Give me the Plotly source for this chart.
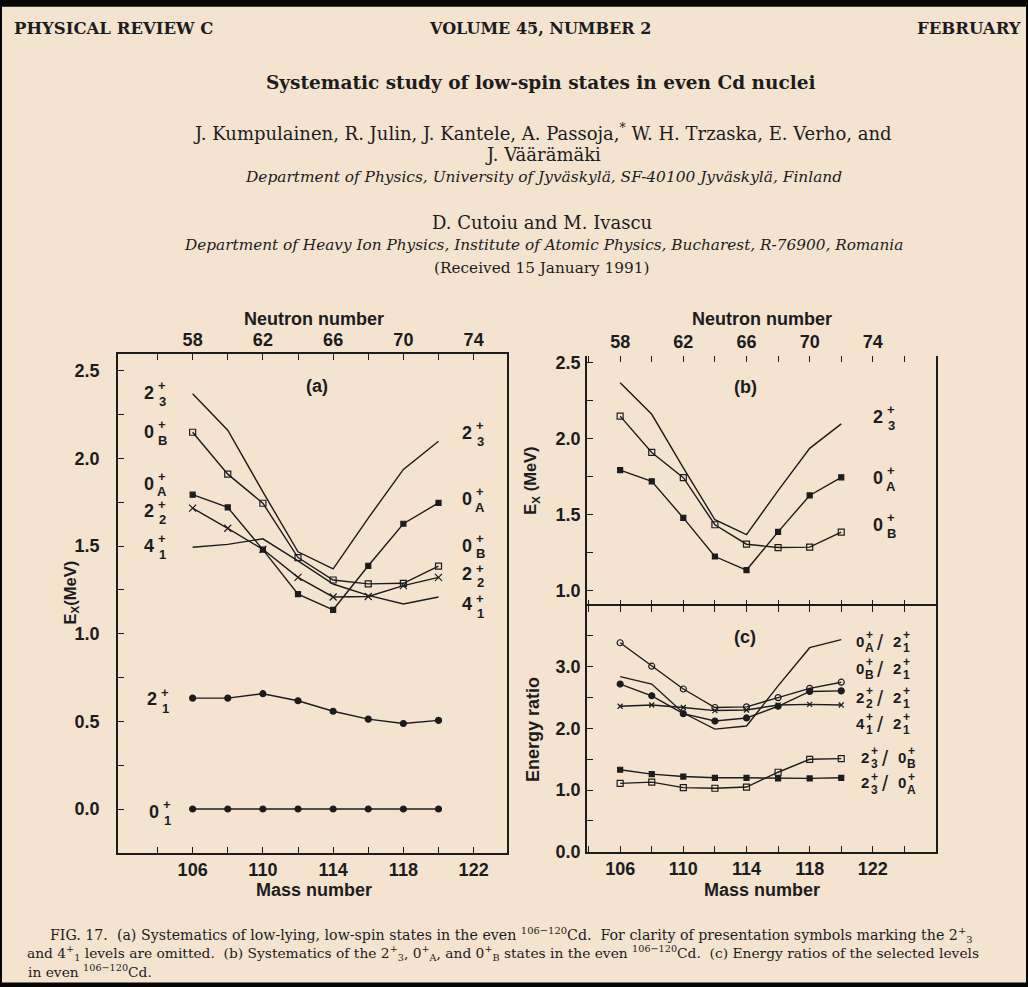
import plotly.graph_objects as go

# Even Cd isotopes, A = 106 ... 120
mass = [106, 108, 110, 112, 114, 116, 118, 120]

# Level energies (MeV)
e_0_1 = [0.0, 0.0, 0.0, 0.0, 0.0, 0.0, 0.0, 0.0]
e_2_1 = [0.633, 0.633, 0.658, 0.618, 0.558, 0.513, 0.488, 0.506]
e_4_1 = [1.494, 1.510, 1.542, 1.416, 1.284, 1.219, 1.170, 1.210]
e_2_2 = [1.717, 1.602, 1.482, 1.322, 1.210, 1.213, 1.275, 1.322]
e_0_A = [1.794, 1.721, 1.480, 1.226, 1.137, 1.388, 1.628, 1.747]
e_0_B = [2.150, 1.911, 1.745, 1.435, 1.307, 1.285, 1.288, 1.386]
e_2_3 = [2.370, 2.162, 1.810, 1.468, 1.370, 1.660, 1.938, 2.099]

# Energy ratios
r_0A_21 = [2.84, 2.72, 2.25, 1.99, 2.04, 2.69, 3.31, 3.44]
r_0B_21 = [3.39, 3.01, 2.64, 2.34, 2.35, 2.50, 2.65, 2.75]
r_22_21 = [2.72, 2.53, 2.24, 2.12, 2.17, 2.36, 2.60, 2.61]
r_41_21 = [2.36, 2.38, 2.34, 2.29, 2.30, 2.38, 2.39, 2.38]
r_23_0B = [1.11, 1.13, 1.04, 1.03, 1.05, 1.29, 1.50, 1.51]
r_23_0A = [1.33, 1.26, 1.22, 1.20, 1.20, 1.19, 1.19, 1.20]

# Axis tick labels
mass_ticks = [106, 110, 114, 118, 122]
mass_minor = [104, 108, 112, 116, 120, 124]
n_ticks = [58, 62, 66, 70, 74]
n_minor = [56, 60, 64, 68, 72, 76]

Z_CD = 48  # neutron number N = A - Z

W, H = 1028, 987
BG = "#f4e3cf"
INK = "#1c1c1c"
SANS = "Liberation Sans"
SERIF = "DejaVu Serif"


def fx(x):
    return x / W


def fy(y):
    # page rows mapped onto the figure's height
    return 1 - ((y - 1.3) / 0.989) / H


line_style = dict(color=INK, width=1.4)
fig = go.Figure()


def add(x, y, xa, ya, symbol=None, size=6, open_=False):
    kw = dict(x=x, y=y, xaxis=xa, yaxis=ya, line=line_style,
              showlegend=False, hoverinfo="skip")
    if symbol is None:
        kw["mode"] = "lines"
    else:
        kw["mode"] = "lines+markers"
        kw["marker"] = dict(symbol=symbol, size=size,
                            color=BG if open_ else INK,
                            line=dict(color=INK, width=1.2))
    fig.add_trace(go.Scatter(**kw))


# (a) level systematics
add(mass, e_0_1, "x", "y", "circle", 6)
add(mass, e_2_1, "x", "y", "circle", 6)
add(mass, e_4_1, "x", "y")
add(mass, e_2_2, "x", "y", "x-thin-open", 7)
add(mass, e_0_A, "x", "y", "square", 5)
add(mass, e_0_B, "x", "y", "square-open", 6)
add(mass, e_2_3, "x", "y")

# (b) 2_3, 0_A, 0_B
add(mass, e_2_3, "x2", "y2")
add(mass, e_0_A, "x2", "y2", "square", 5)
add(mass, e_0_B, "x2", "y2", "square-open", 6)

# (c) energy ratios
add(mass, r_0A_21, "x3", "y3")
add(mass, r_0B_21, "x3", "y3", "circle-open", 6)
add(mass, r_22_21, "x3", "y3", "circle", 6)
add(mass, r_41_21, "x3", "y3", "x-thin-open", 5)
add(mass, r_23_0B, "x3", "y3", "square-open", 6)
add(mass, r_23_0A, "x3", "y3", "square", 5)

# carriers for the neutron-number axes on top
for xa, ya in (("x4", "y"), ("x5", "y2")):
    fig.add_trace(go.Scatter(x=[66], y=[None], xaxis=xa, yaxis=ya,
                             mode="lines", showlegend=False, hoverinfo="skip"))

tick_font = dict(family=SANS, size=18, color=INK, weight="bold")
axis_common = dict(showline=True, linecolor=INK, linewidth=1.5, ticks="inside",
                   ticklen=6, tickwidth=1.3, tickcolor=INK, showgrid=False,
                   zeroline=False, tickfont=tick_font)


def minor(**kw):
    return dict(ticks="inside", ticklen=6, tickcolor=INK, tickwidth=1.3, **kw)


xa_range = [101.75, 123.9]
xb_range = [103.9, 126.0]

fig.update_layout(
    width=W, height=H,
    margin=dict(l=0, r=0, t=0, b=0),
    paper_bgcolor=BG, plot_bgcolor=BG,
    showlegend=False,
    xaxis=dict(axis_common, domain=[fx(118), fx(507)], range=xa_range, anchor="y",
               tickvals=mass_ticks, mirror=True, ticklabelstandoff=0,
               minor=minor(tickvals=mass_minor)),
    yaxis=dict(axis_common, domain=[fy(853), fy(353)], range=[-0.25, 2.597],
               anchor="x", tick0=0, dtick=0.5, tickformat=".1f", mirror=True,
               ticklabelstandoff=13, minor=minor(dtick=0.25)),
    xaxis4=dict(axis_common, overlaying="x", side="top", anchor="y", showline=False,
                range=[xa_range[0] - Z_CD, xa_range[1] - Z_CD], tickvals=n_ticks,
                ticklabelstandoff=3, minor=minor(tickvals=n_minor)),
    xaxis2=dict(axis_common, domain=[fx(587), fx(936)], range=xb_range, anchor="y2",
                tickvals=mass_ticks, showline=False, showticklabels=False,
                minor=minor(tickvals=mass_minor)),
    xaxis5=dict(axis_common, overlaying="x2", side="top", anchor="y2", showline=False,
                range=[xb_range[0] - Z_CD, xb_range[1] - Z_CD], tickvals=n_ticks,
                ticklabelstandoff=3, minor=minor(tickvals=n_minor)),
    yaxis2=dict(axis_common, domain=[fy(606), fy(355)], range=[0.898, 2.546],
                anchor="x2", tick0=0, dtick=0.5, tickformat=".1f", mirror=True,
                ticklabelstandoff=1, minor=minor(dtick=0.25)),
    xaxis3=dict(axis_common, domain=[fx(587), fx(936)], range=xb_range, anchor="y3",
                tickvals=mass_ticks, mirror="allticks", ticklabelstandoff=0,
                minor=minor(tickvals=mass_minor)),
    yaxis3=dict(axis_common, domain=[fy(852), fy(606)], range=[-0.001, 3.98],
                anchor="x3", tick0=0, dtick=1, tickformat=".1f", mirror=True,
                ticklabelstandoff=1, minor=minor(dtick=0.5)),
)

anns = []


def txt(x, y, text, size, family=SANS, weight="bold", xanchor="center",
        angle=0, color=INK):
    anns.append(dict(x=fx(x), y=fy(y), xref="paper", yref="paper", text=text,
                     showarrow=False, xanchor=xanchor, yanchor="middle",
                     textangle=angle,
                     font=dict(family=family, size=size, color=color,
                               weight=weight)))


def level(x, y, base, sup, sub, bsize=18, ssize=13, dx=13, up=7, down=9):
    txt(x, y, base, bsize)
    txt(x + dx, y - up, sup, ssize)
    txt(x + dx, y + down, sub, ssize)


def ratio(x, y, num, den):
    level(x, y, *num, bsize=15, ssize=12, dx=9, up=6, down=7)
    txt(x + 20, y + 1, "/", 22, weight="normal")
    level(x + 37, y, *den, bsize=15, ssize=12, dx=9, up=6, down=7)


# axis titles and panel letters
txt(314, 318, "Neutron number", 18)
txt(762, 318, "Neutron number", 18)
txt(314, 890, "Mass number", 18)
txt(762, 890, "Mass number", 18)
txt(71, 592, "E<sub>X</sub>(MeV)", 16.5, angle=-90)
txt(531, 480, "E<sub>X</sub> (MeV)", 16.5, angle=-90)
txt(533, 730, "Energy ratio", 18, angle=-90)
txt(317, 385, "(a)", 18)
txt(745, 386, "(b)", 18)
txt(745, 637, "(c)", 18)

# level labels, panel (a) left column
level(149, 392, "2", "+", "3")
level(149, 431, "0", "+", "B")
level(149, 483, "0", "+", "A", down=8)
level(149, 510, "2", "+", "2", up=6)
level(149, 545, "4", "+", "1")
level(152, 699, "2", "+", "1")
level(154, 812, "0", "+", "1")
# panel (a) right column
level(467, 432, "2", "+", "3")
level(467, 498, "0", "+", "A")
level(467, 545, "0", "+", "B", down=8)
level(467, 574, "2", "+", "2", up=6, down=8)
level(467, 604, "4", "+", "1", up=6)
# panel (b)
level(878, 416, "2", "+", "3")
level(878, 477, "0", "+", "A")
level(878, 524, "0", "+", "B")
# panel (c)
ratio(860, 641, ("0", "+", "A"), ("2", "+", "1"))
ratio(860, 668, ("0", "+", "B"), ("2", "+", "1"))
ratio(860, 697, ("2", "+", "2"), ("2", "+", "1"))
ratio(860, 723, ("4", "+", "1"), ("2", "+", "1"))
ratio(865, 757, ("2", "+", "3"), ("0", "+", "B"))
ratio(865, 783, ("2", "+", "3"), ("0", "+", "A"))

# journal header and article heading
txt(113, 27, "PHYSICAL REVIEW C", 16.5, family=SERIF)
txt(540, 27, "VOLUME 45, NUMBER 2", 16, family=SERIF)
txt(969, 27, "FEBRUARY", 16.5, family=SERIF)
txt(541, 81, "Systematic study of low-spin states in even Cd nuclei", 18.5, family=SERIF)
txt(542, 131, "J. Kumpulainen, R. Julin, J. Kantele, A. Passoja,<sup>*</sup> W. H. Trzaska, E. Verho, and",
    18, family=SERIF, weight="normal")
txt(543, 153, "J. Väärämäki", 18, family=SERIF, weight="normal")
txt(543, 176, "<i>Department of Physics, University of Jyväskylä, SF-40100 Jyväskylä, Finland</i>",
    15.4, family=SERIF, weight="normal")
txt(542, 221, "D. Cutoiu and M. Ivascu", 18, family=SERIF, weight="normal")
txt(543, 244, "<i>Department of Heavy Ion Physics, Institute of Atomic Physics, Bucharest, R-76900, Romania</i>",
    15.3, family=SERIF, weight="normal")
txt(542, 267, "(Received 15 January 1991)", 15.3, family=SERIF, weight="normal")

# figure caption
txt(511, 935, "FIG. 17.  (a) Systematics of low-lying, low-spin states in the even <sup>106−120</sup>Cd.  "
              "For clarity of presentation symbols marking the 2<sup>+</sup><sub>3</sub>",
    14.2, family=SERIF, weight="normal")
txt(503, 953, "and 4<sup>+</sup><sub>1</sub> levels are omitted.  (b) Systematics of the 2<sup>+</sup><sub>3</sub>, "
              "0<sup>+</sup><sub>A</sub>, and 0<sup>+</sup><sub>B</sub> states in the even <sup>106−120</sup>Cd.  "
              "(c) Energy ratios of the selected levels",
    13.8, family=SERIF, weight="normal")
txt(90, 971, "in even <sup>106−120</sup>Cd.", 13.8, family=SERIF, weight="normal")

fig.update_layout(annotations=anns)

# dark scan border round the page
for x0, x1, y0, y1 in ((0, W, -5, 5), (0, W, 983, H + 20),
                       (0, 2, -5, H + 20), (1026, W, -5, H + 20)):
    fig.add_shape(type="rect", xref="paper", yref="paper",
                  x0=fx(x0), x1=fx(x1), y0=fy(y1), y1=fy(y0),
                  fillcolor="#050505", line=dict(width=0), layer="above")

fig.write_html("out.html")
